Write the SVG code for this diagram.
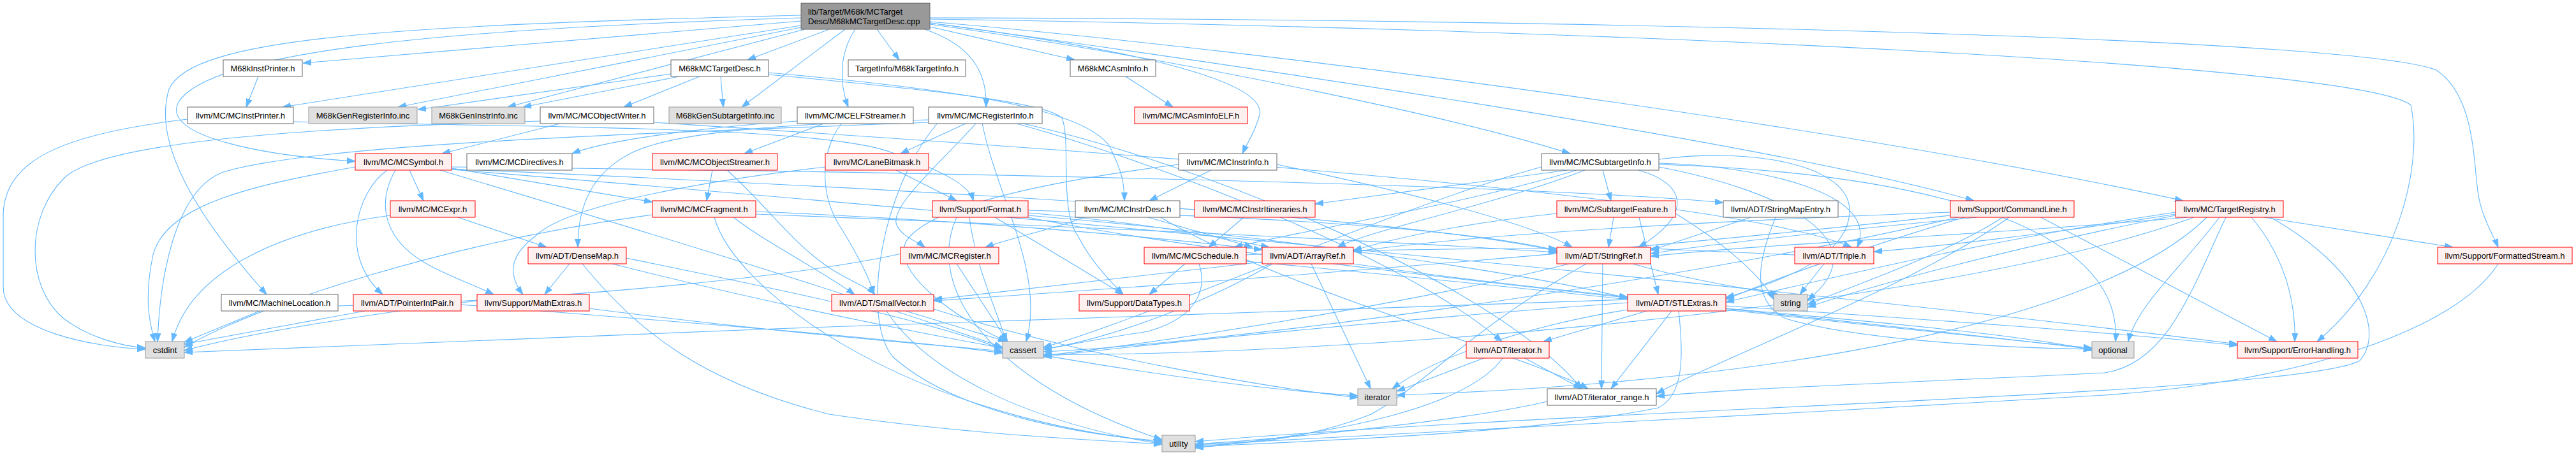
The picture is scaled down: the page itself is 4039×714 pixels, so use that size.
<svg xmlns="http://www.w3.org/2000/svg" width="4039" height="714" viewBox="0 0 4039 714">
<style>
.e{fill:none;stroke:#63b8ff;stroke-width:1.1;marker-end:url(#a)}
text{font-family:"Liberation Sans",Arial,sans-serif;font-size:13px;text-anchor:middle;fill:#000}
.w rect{fill:#fff;stroke:#666;stroke-width:1}
.r rect{fill:#fff0f0;stroke:#f00;stroke-width:1}
.g rect{fill:#e0e0e0;stroke:#999;stroke-width:1}
.root rect{fill:#999;stroke:#666;stroke-width:1}
</style>
<defs>
<marker id="a" markerWidth="13" markerHeight="10" refX="13" refY="5" orient="auto" markerUnits="userSpaceOnUse"><path d="M0,0.5 L13,5 L0,9.5 z" fill="#63b8ff" stroke="#63b8ff" stroke-width="1"/></marker>
</defs>
<rect width="4039" height="714" fill="#fff"/>
<g id="edges">
<path class="e" d="M1256,33 L475,99"/>
<path class="e" d="M1300,46 L1172,94"/>
<path class="e" d="M1375,46 L1410,94"/>
<path class="e" d="M1458,42 L1685,94"/>
<path class="e" d="M1256,40 L443,168"/>
<path class="e" d="M1256,43 L624,168"/>
<path class="e" d="M1262,46 L796,168"/>
<path class="e" d="M1325,46 L1163,168"/>
<path class="e" d="M1341,46 C1318,80 1314,125 1330,168"/>
<path class="e" d="M1450,46 C1520,70 1548,110 1546,168"/>
<path class="e" d="M1458,36 C1800,80 1985,130 1975,180 C1968,208 1955,225 1948,241"/>
<path class="e" d="M1458,38 C1900,100 2300,190 2462,241"/>
<path class="e" d="M1256,28 C700,45 330,80 280,160 C250,215 420,245 557,253"/>
<path class="e" d="M1256,24 C600,40 300,60 265,140 C240,220 300,330 418,462"/>
<path class="e" d="M1458,34 C2000,80 2900,200 3423,315"/>
<path class="e" d="M1458,36 C2000,110 2800,230 3095,315"/>
<path class="e" d="M1458,30 C2500,45 3700,100 3780,165 C3800,260 3760,430 3633,536"/>
<path class="e" d="M1458,28 C2500,30 3700,60 3820,110 C3880,150 3878,250 3885,300 C3890,340 3910,370 3917,388"/>
<path class="e" d="M405,120 L386,168"/>
<path class="e" d="M1052,116 L655,172"/>
<path class="e" d="M1065,120 L820,168"/>
<path class="e" d="M1097,120 L978,168"/>
<path class="e" d="M1130,120 L1134,168"/>
<path class="e" d="M1205,114 C1500,140 1700,170 1740,230 C1760,270 1763,290 1763,315"/>
<path class="e" d="M1205,117 C1450,140 1640,160 1665,185 C1680,220 1660,330 1690,370 C1710,410 1740,440 1761,462"/>
<path class="e" d="M1765,120 L1839,168"/>
<path class="e" d="M294,187 C100,210 5,250 5,340 L5,450 C5,520 150,545 228,548"/>
<path class="e" d="M460,191 C900,200 1300,200 1400,240 C1480,270 1520,290 1526,315"/>
<path class="e" d="M882,193 L693,241"/>
<path class="e" d="M1025,192 C1600,230 2700,300 2903,388"/>
<path class="e" d="M847,190 C500,200 160,220 100,280 C40,340 40,450 100,500 C140,530 190,543 228,546"/>
<path class="e" d="M1294,193 L1167,241"/>
<path class="e" d="M1250,190 C1100,200 950,220 897,241"/>
<path class="e" d="M1320,193 C1290,230 1280,300 1320,360 C1345,400 1365,440 1370,462"/>
<path class="e" d="M1516,193 L1412,241"/>
<path class="e" d="M1531,193 C1470,260 1400,320 1405,350 C1410,370 1440,380 1450,388"/>
<path class="e" d="M1456,188 C1200,195 1050,210 990,240 C930,270 906,320 906,388"/>
<path class="e" d="M1590,193 C1800,250 2200,400 2355,536"/>
<path class="e" d="M1600,193 C1900,260 2350,450 2480,610"/>
<path class="e" d="M1540,193 C1560,300 1640,430 1609,536"/>
<path class="e" d="M1456,192 C1000,210 500,225 350,270 C270,300 250,450 247,536"/>
<path class="e" d="M1470,193 C1380,300 1350,500 1400,560 C1500,650 1700,683 1822,692"/>
<path class="e" d="M642,267 L664,315"/>
<path class="e" d="M708,264 L1023,317"/>
<path class="e" d="M607,267 C560,300 530,400 600,462"/>
<path class="e" d="M620,267 C590,320 600,380 680,420 C720,440 750,450 774,462"/>
<path class="e" d="M708,262 C1500,270 2400,290 2702,318"/>
<path class="e" d="M708,265 C1500,300 2200,340 2441,394"/>
<path class="e" d="M708,266 C1500,330 2800,450 3508,540"/>
<path class="e" d="M690,267 C900,330 1300,450 1572,545"/>
<path class="e" d="M557,262 C400,290 260,320 240,400 C225,470 235,510 243,536"/>
<path class="e" d="M1117,267 L1108,315"/>
<path class="e" d="M1140,267 C1200,320 1240,380 1300,420 C1330,440 1360,450 1372,462"/>
<path class="e" d="M1405,267 L1500,315"/>
<path class="e" d="M1294,262 C1050,290 880,330 840,370 C800,400 795,430 820,462"/>
<path class="e" d="M1899,267 L1802,315"/>
<path class="e" d="M2002,258 C2200,300 2400,350 2465,388"/>
<path class="e" d="M1848,258 C1600,290 1450,330 1420,380 C1400,430 1500,500 1578,536"/>
<path class="e" d="M2457,267 L2062,320"/>
<path class="e" d="M2513,267 L2526,315"/>
<path class="e" d="M2472,267 C2300,320 2050,360 1935,388"/>
<path class="e" d="M2485,267 C2350,320 2150,360 2097,388"/>
<path class="e" d="M2569,267 C2650,290 2650,340 2569,388"/>
<path class="e" d="M2601,250 C2750,230 2900,260 2900,330 C2900,400 2800,440 2706,467"/>
<path class="e" d="M2601,256 C2750,260 2950,300 2912,388"/>
<path class="e" d="M2601,262 C2800,300 2950,380 2834,471"/>
<path class="e" d="M2601,258 C3000,270 3330,350 3317,536"/>
<path class="e" d="M2417,262 C2200,320 1800,500 1636,545"/>
<path class="e" d="M718,341 L857,388"/>
<path class="e" d="M612,338 C450,360 300,420 270,536"/>
<path class="e" d="M1185,332 C1500,345 1800,370 1979,392"/>
<path class="e" d="M1150,341 C1200,380 1280,420 1340,462"/>
<path class="e" d="M1185,336 C1800,360 2200,380 2441,396"/>
<path class="e" d="M1023,337 C700,380 400,480 289,545"/>
<path class="e" d="M1120,341 C1150,450 1400,650 1822,694"/>
<path class="e" d="M1612,334 C1800,350 1900,370 1990,388"/>
<path class="e" d="M1612,338 C2000,370 2400,430 2552,468"/>
<path class="e" d="M1612,330 C2000,340 2300,360 2441,393"/>
<path class="e" d="M1560,341 L1761,462"/>
<path class="e" d="M1520,341 C1530,420 1560,480 1578,536"/>
<path class="e" d="M1612,341 C2000,420 2900,500 3280,548"/>
<path class="e" d="M1500,341 C1450,450 1550,600 1822,690"/>
<path class="e" d="M1800,341 L1964,388"/>
<path class="e" d="M1820,341 C2000,450 2400,560 2490,610"/>
<path class="e" d="M1700,341 C1650,360 1580,375 1545,388"/>
<path class="e" d="M1950,341 L1895,388"/>
<path class="e" d="M2441,335 C2300,350 2200,370 2122,393"/>
<path class="e" d="M2570,341 L2600,462"/>
<path class="e" d="M2530,341 L2522,388"/>
<path class="e" d="M2627,335 C2700,380 2760,430 2781,470"/>
<path class="e" d="M2745,341 L2588,393"/>
<path class="e" d="M2784,341 C2760,400 2740,470 2800,500 C2900,530 3100,545 3280,548"/>
<path class="e" d="M3058,333 C2600,350 2300,370 2122,395"/>
<path class="e" d="M3080,341 C2950,380 2800,430 2706,470"/>
<path class="e" d="M3058,338 C2500,400 1800,450 1464,472"/>
<path class="e" d="M3100,341 C2900,360 2700,380 2588,398"/>
<path class="e" d="M3150,341 C3000,450 2700,560 2597,618"/>
<path class="e" d="M3200,341 L3570,536"/>
<path class="e" d="M3070,341 C2600,450 1900,540 1636,552"/>
<path class="e" d="M3140,341 C3050,400 2900,450 2834,478"/>
<path class="e" d="M3411,333 C3100,380 2900,430 2706,474"/>
<path class="e" d="M3430,341 C3100,370 2800,380 2588,402"/>
<path class="e" d="M3411,336 C3200,370 3000,390 2938,395"/>
<path class="e" d="M3530,341 C3580,400 3600,470 3598,536"/>
<path class="e" d="M3550,341 L3846,388"/>
<path class="e" d="M3440,341 C3000,500 2000,560 1636,556"/>
<path class="e" d="M3460,341 C3300,500 2800,600 2190,620"/>
<path class="e" d="M3480,341 C3420,420 3350,480 3337,536"/>
<path class="e" d="M3411,338 C3100,400 2900,460 2834,482"/>
<path class="e" d="M3560,341 C3700,420 3740,520 3700,566 C3600,620 2500,640 1874,693"/>
<path class="e" d="M3490,341 C3438,450 3400,570 3300,585 C3000,600 2700,610 2597,622"/>
<path class="e" d="M3917,414 C3850,520 3600,600 3300,620 C2800,650 2200,680 1874,698"/>
<path class="e" d="M893,414 L854,462"/>
<path class="e" d="M982,405 C1200,450 1450,500 1572,548"/>
<path class="e" d="M960,414 C1300,500 1800,600 2129,621"/>
<path class="e" d="M913,414 C1000,520 1100,600 1300,650 C1500,680 1700,690 1822,697"/>
<path class="e" d="M924,484 C1200,520 1450,540 1572,551"/>
<path class="e" d="M748,472 C600,490 400,520 289,550"/>
<path class="e" d="M572,488 L289,540"/>
<path class="e" d="M723,478 C1000,500 1400,530 1572,554"/>
<path class="e" d="M407,488 L289,537"/>
<path class="e" d="M530,480 C900,470 1300,430 1450,389"/>
<path class="e" d="M1420,488 L1578,536"/>
<path class="e" d="M1464,485 C1700,560 2000,610 2129,624"/>
<path class="e" d="M1390,488 C1450,580 1600,660 1822,697"/>
<path class="e" d="M1979,411 L1464,470"/>
<path class="e" d="M2122,414 C2300,440 2450,455 2552,466"/>
<path class="e" d="M1995,414 C1900,470 1750,530 1636,548"/>
<path class="e" d="M2056,414 L2149,610"/>
<path class="e" d="M2513,414 L2511,610"/>
<path class="e" d="M2460,414 C2200,480 1800,540 1636,558"/>
<path class="e" d="M2560,414 C2650,440 2750,455 2788,462"/>
<path class="e" d="M2487,414 C2300,520 2240,600 2150,650 C2050,690 1950,697 1874,699"/>
<path class="e" d="M2814,400 L2588,390"/>
<path class="e" d="M2860,414 L2822,462"/>
<path class="e" d="M2582,488 L2420,536"/>
<path class="e" d="M2621,488 L2526,610"/>
<path class="e" d="M2552,486 C2400,510 2250,560 2183,610"/>
<path class="e" d="M2706,480 C3000,500 3300,520 3508,542"/>
<path class="e" d="M2552,475 C2200,500 1800,540 1636,560"/>
<path class="e" d="M2552,470 C2000,490 1000,520 289,553"/>
<path class="e" d="M2706,484 C3000,510 3200,530 3280,550"/>
<path class="e" d="M2632,488 C2640,560 2640,620 2600,640 C2400,680 2100,690 1874,701"/>
<path class="e" d="M2389,561 L2480,610"/>
<path class="e" d="M2329,561 L2190,614"/>
<path class="e" d="M2357,561 C2300,640 2100,680 1874,703"/>
<path class="e" d="M2426,630 C2300,660 2000,690 1874,697"/>
<path class="e" d="M1858,414 L1802,462"/>
<path class="e" d="M1880,414 C1895,460 1870,500 1800,520 C1700,535 1660,545 1636,548"/>
<path class="e" d="M1954,400 C2150,390 2350,390 2441,390"/>
<path class="e" d="M1954,410 C2400,450 3000,520 3280,546"/>
<path class="e" d="M1500,414 L1580,536"/>
</g>
<g id="n0" class="root"><rect x="1256" y="5" width="202" height="41"/><text x="1267" y="23" style="text-anchor:start">lib/Target/M68k/MCTarget</text><text x="1267" y="38" style="text-anchor:start">Desc/M68kMCTargetDesc.cpp</text></g>
<g id="n1" class="w"><rect x="350" y="94" width="124" height="26"/><text x="412" y="111.5">M68kInstPrinter.h</text></g>
<g id="n2" class="w"><rect x="1052" y="94" width="153" height="26"/><text x="1128.5" y="111.5">M68kMCTargetDesc.h</text></g>
<g id="n3" class="w"><rect x="1330" y="94" width="184" height="26"/><text x="1422" y="111.5">TargetInfo/M68kTargetInfo.h</text></g>
<g id="n4" class="w"><rect x="1678" y="94" width="134" height="26"/><text x="1745" y="111.5">M68kMCAsmInfo.h</text></g>
<g id="n5" class="w"><rect x="294" y="168" width="166" height="26"/><text x="377" y="185.5">llvm/MC/MCInstPrinter.h</text></g>
<g id="n6" class="g"><rect x="484" y="168" width="170" height="26"/><text x="569" y="185.5">M68kGenRegisterInfo.inc</text></g>
<g id="n7" class="g"><rect x="677" y="168" width="146" height="26"/><text x="750" y="185.5">M68kGenInstrInfo.inc</text></g>
<g id="n8" class="w"><rect x="847" y="168" width="178" height="26"/><text x="936" y="185.5">llvm/MC/MCObjectWriter.h</text></g>
<g id="n9" class="g"><rect x="1049" y="168" width="176" height="26"/><text x="1137" y="185.5">M68kGenSubtargetInfo.inc</text></g>
<g id="n10" class="w"><rect x="1250" y="168" width="182" height="26"/><text x="1341" y="185.5">llvm/MC/MCELFStreamer.h</text></g>
<g id="n11" class="w"><rect x="1456" y="168" width="178" height="26"/><text x="1545" y="185.5">llvm/MC/MCRegisterInfo.h</text></g>
<g id="n12" class="r"><rect x="1779" y="168" width="177" height="26"/><text x="1867.5" y="185.5">llvm/MC/MCAsmInfoELF.h</text></g>
<g id="n13" class="r"><rect x="557" y="241" width="151" height="26"/><text x="632.5" y="258.5">llvm/MC/MCSymbol.h</text></g>
<g id="n14" class="w"><rect x="732" y="241" width="165" height="26"/><text x="814.5" y="258.5">llvm/MC/MCDirectives.h</text></g>
<g id="n15" class="r"><rect x="1023" y="241" width="196" height="26"/><text x="1121" y="258.5">llvm/MC/MCObjectStreamer.h</text></g>
<g id="n16" class="r"><rect x="1294" y="241" width="162" height="26"/><text x="1375" y="258.5">llvm/MC/LaneBitmask.h</text></g>
<g id="n17" class="w"><rect x="1848" y="241" width="154" height="26"/><text x="1925" y="258.5">llvm/MC/MCInstrInfo.h</text></g>
<g id="n18" class="w"><rect x="2417" y="241" width="184" height="26"/><text x="2509" y="258.5">llvm/MC/MCSubtargetInfo.h</text></g>
<g id="n19" class="r"><rect x="612" y="315" width="133" height="26"/><text x="678.5" y="332.5">llvm/MC/MCExpr.h</text></g>
<g id="n20" class="r"><rect x="1023" y="315" width="162" height="26"/><text x="1104" y="332.5">llvm/MC/MCFragment.h</text></g>
<g id="n21" class="r"><rect x="1462" y="315" width="150" height="26"/><text x="1537" y="332.5">llvm/Support/Format.h</text></g>
<g id="n22" class="w"><rect x="1686" y="315" width="164" height="26"/><text x="1768" y="332.5">llvm/MC/MCInstrDesc.h</text></g>
<g id="n23" class="r"><rect x="1873" y="315" width="189" height="26"/><text x="1967.5" y="332.5">llvm/MC/MCInstrItineraries.h</text></g>
<g id="n24" class="r"><rect x="2441" y="315" width="186" height="26"/><text x="2534" y="332.5">llvm/MC/SubtargetFeature.h</text></g>
<g id="n25" class="w"><rect x="2702" y="315" width="180" height="26"/><text x="2792" y="332.5">llvm/ADT/StringMapEntry.h</text></g>
<g id="n26" class="r"><rect x="3058" y="315" width="194" height="26"/><text x="3155" y="332.5">llvm/Support/CommandLine.h</text></g>
<g id="n27" class="r"><rect x="3411" y="315" width="169" height="26"/><text x="3495.5" y="332.5">llvm/MC/TargetRegistry.h</text></g>
<g id="n28" class="r"><rect x="828" y="388" width="154" height="26"/><text x="905" y="405.5">llvm/ADT/DenseMap.h</text></g>
<g id="n29" class="r"><rect x="1412" y="388" width="154" height="26"/><text x="1489" y="405.5">llvm/MC/MCRegister.h</text></g>
<g id="n30" class="r"><rect x="1794" y="388" width="160" height="26"/><text x="1874" y="405.5">llvm/MC/MCSchedule.h</text></g>
<g id="n31" class="r"><rect x="1979" y="388" width="143" height="26"/><text x="2050.5" y="405.5">llvm/ADT/ArrayRef.h</text></g>
<g id="n32" class="r"><rect x="2441" y="388" width="147" height="26"/><text x="2514.5" y="405.5">llvm/ADT/StringRef.h</text></g>
<g id="n33" class="r"><rect x="2814" y="388" width="124" height="26"/><text x="2876" y="405.5">llvm/ADT/Triple.h</text></g>
<g id="n34" class="r"><rect x="3822" y="388" width="211" height="26"/><text x="3927.5" y="405.5">llvm/Support/FormattedStream.h</text></g>
<g id="n35" class="w"><rect x="347" y="462" width="183" height="26"/><text x="438.5" y="479.5">llvm/MC/MachineLocation.h</text></g>
<g id="n36" class="r"><rect x="554" y="462" width="169" height="26"/><text x="638.5" y="479.5">llvm/ADT/PointerIntPair.h</text></g>
<g id="n37" class="r"><rect x="748" y="462" width="176" height="26"/><text x="836" y="479.5">llvm/Support/MathExtras.h</text></g>
<g id="n38" class="r"><rect x="1304" y="462" width="160" height="26"/><text x="1384" y="479.5">llvm/ADT/SmallVector.h</text></g>
<g id="n39" class="r"><rect x="1692" y="462" width="173" height="26"/><text x="1778.5" y="479.5">llvm/Support/DataTypes.h</text></g>
<g id="n40" class="r"><rect x="2552" y="462" width="154" height="26"/><text x="2629" y="479.5">llvm/ADT/STLExtras.h</text></g>
<g id="n41" class="g"><rect x="2781" y="462" width="53" height="26"/><text x="2807.5" y="479.5">string</text></g>
<g id="n42" class="g"><rect x="228" y="536" width="61" height="26"/><text x="258.5" y="553.5">cstdint</text></g>
<g id="n43" class="g"><rect x="1572" y="536" width="64" height="26"/><text x="1604" y="553.5">cassert</text></g>
<g id="n44" class="r"><rect x="2299" y="536" width="130" height="26"/><text x="2364" y="553.5">llvm/ADT/iterator.h</text></g>
<g id="n45" class="g"><rect x="3280" y="536" width="66" height="26"/><text x="3313" y="553.5">optional</text></g>
<g id="n46" class="r"><rect x="3508" y="536" width="189" height="26"/><text x="3602.5" y="553.5">llvm/Support/ErrorHandling.h</text></g>
<g id="n47" class="g"><rect x="2129" y="610" width="61" height="26"/><text x="2159.5" y="627.5">iterator</text></g>
<g id="n48" class="w"><rect x="2426" y="610" width="171" height="26"/><text x="2511.5" y="627.5">llvm/ADT/iterator_range.h</text></g>
<g id="n49" class="g"><rect x="1822" y="683" width="52" height="26"/><text x="1848" y="700.5">utility</text></g>
</svg>
